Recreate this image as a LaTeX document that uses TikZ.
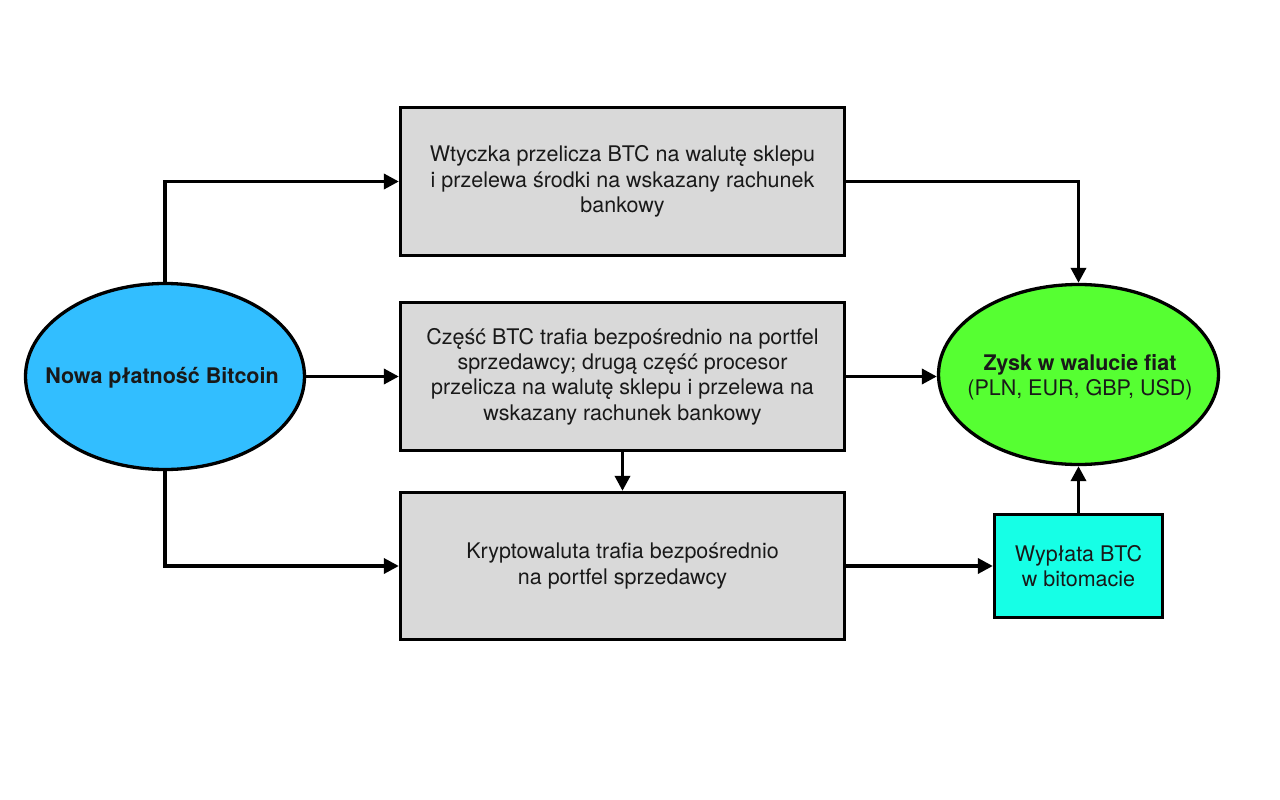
\documentclass[tikz,border=0pt]{standalone}
\usepackage{fontspec}
\setmainfont{TeX Gyre Heros}
\usetikzlibrary{shapes.geometric,arrows.meta}
\definecolor{cblue}{RGB}{50,190,255}
\definecolor{cgreen}{RGB}{86,255,50}
\definecolor{ccyan}{RGB}{22,255,230}
\definecolor{cgray}{RGB}{217,217,217}
\definecolor{ctext}{RGB}{25,25,25}
\tikzset{
  every node/.style={font=\fontsize{21.5}{25.3}\selectfont, text=ctext},
  graybox/.style={draw=black, line width=3.3pt, fill=cgray, rectangle, minimum width=444pt, minimum height=148pt, align=center, inner sep=0pt},
  oval/.style={draw=black, line width=3.3pt, ellipse, inner sep=0pt},
  lbl/.style={align=center, inner sep=0pt},
  conn/.style={line width=3.5pt, -{Triangle[length=15pt,width=15pt]}},
}
\begin{document}
\begin{tikzpicture}[x=1pt,y=-1pt]
\useasboundingbox (0,0) rectangle (1280,800);
\node[oval, fill=cblue, minimum width=279pt, minimum height=186pt] (L) at (165,376.5) {};
\node[lbl] (Lt) at (162,378) {\textbf{Nowa płatność Bitcoin}};
\node[graybox] (top) at (622.5,181.5) {Wtyczka przelicza BTC na walutę sklepu\\i przelewa środki na wskazany rachunek\\bankowy};
\node[graybox] (mid) at (622.5,376.5) {Część BTC trafia bezpośrednio na portfel\\sprzedawcy; drugą część procesor\\przelicza na walutę sklepu i przelewa na\\wskazany rachunek bankowy};
\node[graybox, minimum height=147pt] (bot) at (622.5,566) {Kryptowaluta trafia bezpośrednio\\na portfel sprzedawcy};
\node[oval, fill=cgreen, minimum width=280pt, minimum height=180pt] (R) at (1078.5,374.5) {};
\node[lbl] (Rt) at (1080,377) {\textbf{Zysk w walucie fiat}\\(PLN, EUR, GBP, USD)};
\node[draw=black, line width=3.3pt, fill=ccyan, minimum width=168pt, minimum height=103pt, inner sep=0pt, align=center] (bit) at (1078.5,566) {Wypłata BTC\\w bitomacie};
\draw[conn] (L.north) |- (top.west);
\draw[conn] (L.east) -- (mid.west);
\draw[conn] (L.south) |- (bot.west);
\draw[conn] (top.east) -| (R.north);
\draw[conn] (mid.east) -- (mid.east -| R.west);
\draw[conn] (mid.south) -- (bot.north);
\draw[conn] (bot.east) -- (bit.west);
\draw[conn] (bit.north) -- (R.south);
\end{tikzpicture}
\end{document}
